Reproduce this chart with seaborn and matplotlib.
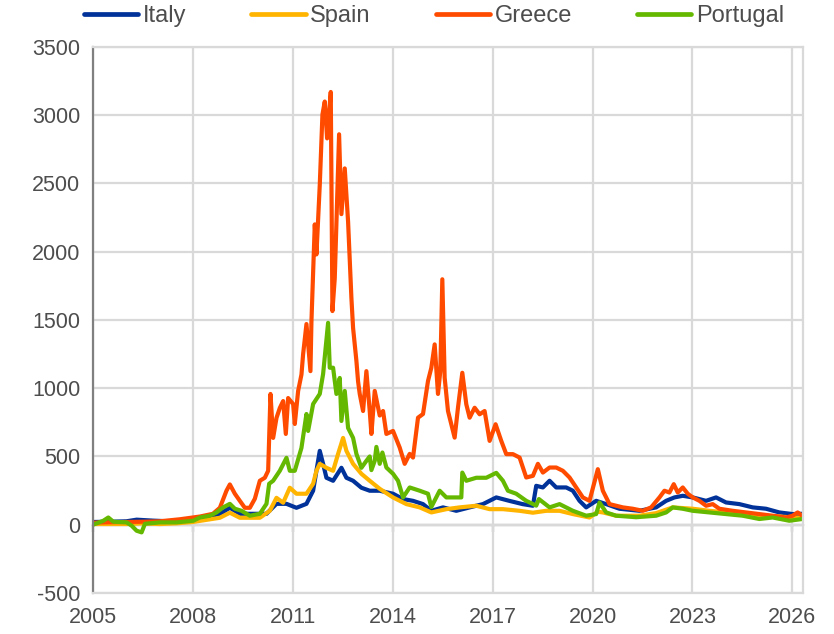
import matplotlib.pyplot as plt
import seaborn as sns
import pandas as pd

# Spreads over 10y Bund (bp)
countries = ['Italy', 'Spain', 'Greece', 'Portugal']
colors = ['#003299', '#ffb400', '#ff4b00', '#65b800']

italy_year = [2005.0, 2005.5, 2006.0, 2006.31, 2006.8, 2007.3, 2007.61, 2008.0, 2008.81, 2009.11,
              2009.41, 2009.8, 2010.21, 2010.51, 2010.81, 2011.11, 2011.41, 2011.61, 2011.81, 2011.91,
              2012.01, 2012.21, 2012.46, 2012.61, 2012.81, 2013.06, 2013.31, 2013.61, 2014.01, 2014.31,
              2014.61, 2014.91, 2015.16, 2015.51, 2015.91, 2016.31, 2016.71, 2017.11, 2017.5, 2017.9,
              2018.21, 2018.31, 2018.51, 2018.71, 2018.91, 2019.21, 2019.41, 2019.61, 2019.81, 2020.11,
              2020.41, 2020.81, 2021.41, 2021.91, 2022.21, 2022.46, 2022.71, 2023.01, 2023.41, 2023.71,
              2024.01, 2024.41, 2024.81, 2025.21, 2025.61, 2026.01, 2026.3]
italy_bp = [20, 22, 25, 37, 30, 25, 20, 30, 80, 124,
            80, 80, 80, 153, 153, 124, 153, 249, 541, 446,
            344, 322, 417, 344, 322, 271, 249, 249, 227, 188,
            175, 151, 102, 127, 102, 127, 151, 200, 175, 151,
            139, 285, 273, 322, 273, 273, 249, 175, 127, 175,
            151, 117, 102, 127, 175, 200, 212, 200, 175, 200,
            163, 151, 127, 117, 90, 78, 80]

spain_year = [2005.0, 2005.5, 2006.0, 2006.5, 2007.0, 2007.5, 2008.0, 2008.81, 2009.11, 2009.41,
              2010.01, 2010.31, 2010.51, 2010.71, 2010.91, 2011.11, 2011.41, 2011.61, 2011.71, 2011.81,
              2012.01, 2012.21, 2012.36, 2012.51, 2012.61, 2012.81, 2013.06, 2013.31, 2013.61, 2014.01,
              2014.41, 2014.81, 2015.16, 2015.61, 2016.01, 2016.51, 2016.91, 2017.31, 2017.81, 2018.21,
              2018.61, 2019.01, 2019.41, 2019.91, 2020.16, 2020.31, 2020.71, 2021.41, 2021.91, 2022.41,
              2023.01, 2023.51, 2024.01, 2024.51, 2025.01, 2025.51, 2026.01, 2026.3]
spain_bp = [5, 5, 5, 10, 5, 10, 20, 51, 88, 51,
            51, 102, 197, 161, 271, 227, 227, 300, 395, 446,
            417, 395, 519, 636, 541, 446, 373, 322, 263, 200,
            151, 127, 90, 114, 127, 139, 114, 114, 102, 88,
            102, 102, 78, 53, 95, 90, 66, 66, 85, 127,
            117, 102, 90, 78, 66, 62, 53, 53]

greece_year = [2005.0, 2005.5, 2006.0, 2006.5, 2007.0, 2007.61, 2008.21, 2008.6, 2008.81, 2009.01,
               2009.11, 2009.26, 2009.41, 2009.56, 2009.71, 2009.86, 2010.01, 2010.16, 2010.26, 2010.33,
               2010.41, 2010.51, 2010.61, 2010.71, 2010.79, 2010.86, 2011.01, 2011.06, 2011.16, 2011.26,
               2011.31, 2011.41, 2011.53, 2011.56, 2011.66, 2011.71, 2011.81, 2011.89, 2011.96, 2012.03,
               2012.14, 2012.19, 2012.26, 2012.39, 2012.46, 2012.56, 2012.66, 2012.76, 2012.81, 2012.91,
               2012.96, 2013.01, 2013.11, 2013.21, 2013.31, 2013.36, 2013.46, 2013.61, 2013.71, 2013.81,
               2014.01, 2014.21, 2014.36, 2014.51, 2014.61, 2014.76, 2014.91, 2015.06, 2015.16, 2015.26,
               2015.36, 2015.43, 2015.49, 2015.56, 2015.66, 2015.86, 2015.96, 2016.09, 2016.21, 2016.31,
               2016.46, 2016.61, 2016.76, 2016.91, 2017.09, 2017.26, 2017.41, 2017.61, 2017.81, 2018.01,
               2018.21, 2018.36, 2018.51, 2018.71, 2018.91, 2019.11, 2019.31, 2019.51, 2019.71, 2019.91,
               2020.16, 2020.31, 2020.51, 2020.91, 2021.21, 2021.51, 2021.76, 2022.01, 2022.16, 2022.31,
               2022.44, 2022.56, 2022.71, 2022.86, 2023.01, 2023.21, 2023.41, 2023.61, 2023.81, 2024.21,
               2024.61, 2025.01, 2025.41, 2025.81, 2026.01, 2026.16, 2026.3]
greece_bp = [15, 18, 20, 22, 25, 40, 60, 80, 124, 250,
             295, 227, 175, 124, 124, 190, 322, 344, 395, 958,
             636, 782, 855, 906, 665, 928, 884, 738, 980, 1100,
             1250, 1470, 1125, 1490, 2200, 1980, 2490, 3005, 3100, 2830,
             3170, 1565, 1805, 2860, 2275, 2610, 2220, 1660, 1442, 1200,
             1050, 958, 833, 1125, 833, 665, 980, 800, 833, 665,
             687, 565, 446, 519, 492, 784, 811, 1053, 1150, 1321,
             958, 1126, 1798, 1077, 833, 638, 857, 1113, 882, 784,
             857, 809, 833, 614, 736, 614, 517, 517, 492, 346,
             358, 446, 382, 419, 419, 395, 346, 273, 200, 175,
             407, 249, 151, 127, 117, 102, 127, 200, 249, 236,
             297, 236, 273, 227, 200, 175, 139, 151, 117, 102,
             90, 78, 66, 53, 66, 90, 66]

portugal_year = [2005.0, 2005.31, 2005.46, 2005.61, 2006.01, 2006.16, 2006.31, 2006.46, 2006.56, 2007.01,
                 2007.51, 2008.01, 2008.21, 2008.51, 2008.71, 2008.91, 2009.11, 2009.26, 2009.46, 2009.71,
                 2010.01, 2010.21, 2010.29, 2010.41, 2010.61, 2010.81, 2010.91, 2011.06, 2011.26, 2011.41,
                 2011.46, 2011.61, 2011.81, 2011.91, 2012.06, 2012.11, 2012.21, 2012.31, 2012.41, 2012.46,
                 2012.56, 2012.66, 2012.81, 2012.91, 2013.06, 2013.21, 2013.31, 2013.36, 2013.46, 2013.51,
                 2013.61, 2013.69, 2013.81, 2014.01, 2014.16, 2014.31, 2014.51, 2014.81, 2015.06, 2015.16,
                 2015.41, 2015.61, 2015.91, 2016.06, 2016.09, 2016.21, 2016.51, 2016.81, 2017.11, 2017.31,
                 2017.46, 2017.71, 2018.01, 2018.31, 2018.39, 2018.71, 2019.01, 2019.41, 2019.81, 2020.11,
                 2020.21, 2020.41, 2020.71, 2021.31, 2021.91, 2022.21, 2022.41, 2022.71, 2023.01, 2023.51,
                 2024.01, 2024.51, 2025.01, 2025.41, 2025.91, 2026.3]
portugal_bp = [0, 29, 53, 22, 17, -7, -44, -56, 7, 17,
               17, 29, 53, 66, 90, 127, 153, 117, 102, 66,
               80, 153, 300, 322, 395, 490, 395, 395, 563, 811,
               687, 884, 958, 1104, 1479, 1150, 1150, 958, 1075, 760,
               980, 709, 636, 519, 417, 468, 500, 400, 468, 570,
               446, 529, 419, 373, 322, 200, 273, 249, 227, 130,
               249, 200, 200, 200, 382, 322, 344, 344, 380, 322,
               249, 227, 175, 140, 188, 127, 151, 102, 66, 78,
               163, 90, 66, 55, 66, 90, 127, 117, 102, 90,
               78, 66, 42, 53, 29, 42]

tick_years = [2005, 2008, 2011, 2014, 2017, 2020, 2023, 2026]
y_ticks = list(range(-500, 3501, 500))

df = pd.concat([
    pd.DataFrame({'year': italy_year, 'spread': italy_bp, 'country': 'Italy'}),
    pd.DataFrame({'year': spain_year, 'spread': spain_bp, 'country': 'Spain'}),
    pd.DataFrame({'year': greece_year, 'spread': greece_bp, 'country': 'Greece'}),
    pd.DataFrame({'year': portugal_year, 'spread': portugal_bp, 'country': 'Portugal'}),
], ignore_index=True)

sns.set_theme(style='white')
plt.rcParams['font.family'] = ['Liberation Sans', 'DejaVu Sans']
plt.rcParams['axes.unicode_minus'] = False
text_col = '#4d4d4d'
grid_col = '#d9d9d9'
axis_col = '#808080'
fsize = 15.5

fig, ax = plt.subplots(figsize=(8.34, 6.34), dpi=100)
fig.subplots_adjust(left=0.1115, right=0.9632, top=0.926, bottom=0.0647)

sns.lineplot(data=df, x='year', y='spread', hue='country', hue_order=countries,
             palette=dict(zip(countries, colors)), linewidth=3.0, estimator=None, ax=ax)

ymin, ymax = -500, 3500
ax.set_xlim(2005, 2026.33)
ax.set_ylim(ymin, ymax)
ax.set_xticks(tick_years)
ax.set_xticklabels([str(y) for y in tick_years])
ax.set_yticks(y_ticks)
ax.set_xlabel('')
ax.set_ylabel('')

ax.grid(True, color=grid_col, linewidth=1.6)
ax.set_axisbelow(True)
for side in ['top', 'right', 'bottom']:
    ax.spines[side].set_color(grid_col)
    ax.spines[side].set_linewidth(1.6)
ax.spines['left'].set_color(axis_col)
ax.spines['left'].set_linewidth(1.6)

ax.tick_params(axis='x', length=0, pad=10, labelsize=fsize, labelcolor=text_col)
ax.tick_params(axis='y', direction='in', length=5, width=1.6, color=axis_col,
               pad=9, labelsize=fsize, labelcolor=text_col)

# zero line carrying the year ticks
zero_frac = (0 - ymin) / (ymax - ymin)
sec = ax.secondary_xaxis(zero_frac)
sec.set_xticks(tick_years)
sec.tick_params(axis='x', direction='out', length=5, width=1.6, color=axis_col, labelbottom=False)
sec.spines['bottom'].set_color(axis_col)
sec.spines['bottom'].set_linewidth(1.6)

sns.move_legend(ax, 'center', bbox_to_anchor=(0.5204, 0.975), bbox_transform=fig.transFigure,
                ncol=4, frameon=False, title=None, fontsize=17, handlelength=2.3,
                handletextpad=0.2, columnspacing=2.75)
for t in ax.get_legend().get_texts():
    t.set_color(text_col)
for line in ax.get_legend().get_lines():
    line.set_linewidth(3.4)

plt.savefig('out.png', dpi=100)
